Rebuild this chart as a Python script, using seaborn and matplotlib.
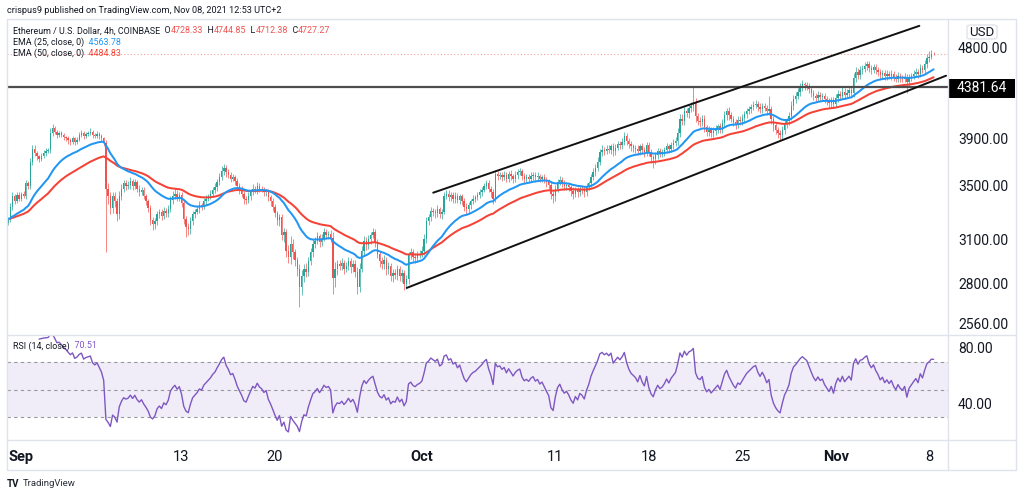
import numpy as np
import pandas as pd
import matplotlib
matplotlib.use("Agg")
import matplotlib.pyplot as plt
import seaborn as sns
from matplotlib.lines import Line2D
from matplotlib.patches import FancyBboxPatch, Rectangle
from matplotlib.ticker import NullLocator, FixedLocator

# ---------------- data (4h candles, Aug 31 00:00 -> Nov 8 08:00) ----------------
first_open = 3215.0
close_rows = [
    [3245, 3340, 3420, 3380, 3430, 3400],
    [3440, 3420, 3520, 3500, 3700, 3810],
    [3770, 3745, 3720, 3750, 3775, 3790],
    [3800, 3950, 3990, 3960, 3930, 3945],
    [3930, 3910, 3900, 3885, 3870, 3900],
    [3870, 3890, 3930, 3950, 3920, 3940],
    [3950, 3960, 3930, 3920, 3940, 3920],
    [3900, 3860, 3480, 3420, 3330, 3420],
    [3380, 3280, 3420, 3480, 3520, 3500],
    [3510, 3540, 3500, 3530, 3480, 3450],
    [3470, 3420, 3380, 3330, 3240, 3210],
    [3230, 3280, 3300, 3270, 3310, 3290],
    [3320, 3390, 3420, 3440, 3410, 3430],
    [3370, 3250, 3190, 3170, 3230, 3280],
    [3300, 3320, 3350, 3340, 3380, 3400],
    [3420, 3440, 3470, 3490, 3530, 3570],
    [3620, 3650, 3610, 3590, 3560, 3570],
    [3540, 3500, 3470, 3440, 3400, 3390],
    [3420, 3450, 3480, 3470, 3500, 3480],
    [3470, 3450, 3460, 3410, 3380, 3340],
    [3290, 3240, 3260, 3130, 3150, 3020],
    [2980, 3070, 3010, 2960, 2900, 2780],
    [2850, 2900, 2880, 2950, 3010, 3070],
    [3090, 3120, 3080, 3110, 3150, 3130],
    [3140, 3110, 2840, 2900, 2930, 2920],
    [2940, 2900, 2920, 2950, 2910, 2930],
    [2880, 2780, 2900, 3020, 3090, 3060],
    [3100, 3130, 3150, 3080, 3000, 2950],
    [2930, 2960, 2900, 2920, 2850, 2870],
    [2860, 2900, 2850, 2870, 2800, 2830],
    [2990, 3010, 2980, 2970, 2990, 3000],
    [3020, 3100, 3230, 3260, 3310, 3300],
    [3290, 3320, 3280, 3300, 3420, 3440],
    [3410, 3430, 3400, 3420, 3390, 3420],
    [3380, 3340, 3320, 3350, 3380, 3400],
    [3410, 3430, 3450, 3470, 3500, 3520],
    [3480, 3450, 3400, 3600, 3580, 3590],
    [3570, 3590, 3560, 3600, 3580, 3560],
    [3590, 3610, 3620, 3580, 3560, 3570],
    [3560, 3580, 3590, 3570, 3580, 3560],
    [3570, 3550, 3530, 3510, 3440, 3420],
    [3480, 3530, 3550, 3520, 3500, 3510],
    [3490, 3460, 3440, 3470, 3450, 3480],
    [3470, 3450, 3490, 3520, 3570, 3610],
    [3650, 3700, 3780, 3800, 3790, 3810],
    [3800, 3830, 3790, 3820, 3850, 3840],
    [3870, 3920, 3880, 3850, 3830, 3820],
    [3810, 3790, 3830, 3800, 3780, 3840],
    [3780, 3740, 3720, 3760, 3790, 3770],
    [3780, 3800, 3830, 3810, 3840, 3860],
    [3880, 3950, 4080, 4060, 4150, 4130],
    [4180, 4200, 4240, 4100, 4060, 4050],
    [4080, 4000, 3960, 3980, 3950, 3970],
    [3990, 4010, 3980, 4040, 4110, 4150],
    [4110, 4080, 4050, 4030, 4070, 4060],
    [4090, 4120, 4150, 4170, 4190, 4210],
    [4220, 4190, 4170, 4200, 4180, 4150],
    [4170, 4080, 4020, 3980, 3950, 3930],
    [3980, 4030, 4060, 4100, 4200, 4270],
    [4300, 4340, 4380, 4410, 4400, 4390],
    [4360, 4330, 4300, 4280, 4310, 4290],
    [4300, 4270, 4250, 4230, 4260, 4220],
    [4280, 4320, 4300, 4340, 4310, 4330],
    [4350, 4330, 4480, 4540, 4510, 4560],
    [4570, 4600, 4620, 4580, 4560, 4590],
    [4560, 4540, 4510, 4530, 4500, 4520],
    [4500, 4520, 4490, 4470, 4500, 4480],
    [4470, 4490, 4430, 4480, 4500, 4520],
    [4540, 4520, 4580, 4560, 4620, 4680],
    [4700, 4728.33, 4727.27],
]
wick_up_rows = [
    [20, 25, 30, 15, 20, 25], [15, 20, 25, 20, 30, 35], [30, 20, 15, 25, 20, 25],
    [20, 40, 40, 25, 20, 20], [25, 20, 15, 20, 15, 25], [15, 20, 25, 30, 20, 15],
    [20, 35, 15, 20, 25, 15], [20, 15, 30, 40, 30, 35], [30, 25, 40, 35, 30, 25],
    [30, 35, 20, 25, 20, 25], [25, 20, 15, 20, 25, 20], [25, 30, 25, 20, 30, 20],
    [30, 35, 40, 35, 25, 20], [20, 15, 20, 25, 30, 25], [20, 25, 30, 20, 25, 30],
    [20, 25, 20, 30, 25, 35], [40, 30, 20, 25, 20, 30], [20, 25, 20, 30, 20, 25],
    [30, 25, 35, 20, 30, 20], [20, 25, 20, 15, 20, 25], [20, 15, 25, 20, 30, 25],
    [40, 50, 30, 25, 20, 30], [40, 30, 35, 25, 30, 35], [25, 30, 20, 25, 30, 25],
    [20, 25, 40, 45, 30, 25], [30, 20, 25, 30, 20, 25], [25, 30, 40, 35, 30, 25],
    [30, 25, 30, 20, 25, 20], [25, 30, 20, 25, 20, 25], [30, 25, 20, 25, 20, 30],
    [25, 30, 20, 25, 30, 25], [30, 35, 30, 25, 30, 20], [25, 30, 20, 25, 30, 25],
    [30, 25, 20, 30, 25, 20], [20, 25, 30, 25, 20, 30], [20, 25, 30, 20, 25, 30],
    [25, 20, 30, 30, 25, 20], [25, 30, 20, 25, 30, 20], [30, 25, 30, 20, 25, 30],
    [25, 30, 20, 25, 30, 20], [20, 25, 20, 30, 25, 20], [30, 25, 30, 20, 25, 20],
    [25, 20, 30, 25, 20, 25], [20, 25, 30, 20, 30, 35], [30, 35, 30, 40, 25, 30],
    [30, 25, 30, 35, 30, 25], [35, 40, 30, 25, 30, 25], [25, 30, 25, 30, 25, 30],
    [25, 30, 20, 25, 30, 25], [30, 25, 30, 25, 30, 35], [30, 40, 45, 40, 35, 30],
    [40, 35, 140, 40, 30, 35], [35, 30, 25, 30, 25, 30], [30, 25, 30, 35, 40, 30],
    [35, 30, 25, 30, 35, 30], [30, 35, 30, 25, 30, 35], [40, 30, 35, 30, 25, 30],
    [130, 30, 25, 30, 20, 25], [30, 35, 30, 40, 45, 35], [40, 35, 40, 45, 30, 35],
    [30, 35, 25, 30, 35, 25], [30, 25, 30, 25, 30, 25], [35, 30, 25, 40, 30, 35],
    [30, 40, 50, 45, 40, 35], [40, 45, 35, 30, 35, 30], [35, 30, 25, 30, 25, 35],
    [30, 35, 25, 30, 35, 25], [30, 35, 30, 35, 30, 40], [35, 30, 40, 35, 40, 45],
    [60, 40, 16.52],
]
wick_dn_rows = [
    [15, 20, 25, 20, 15, 20], [20, 15, 20, 25, 20, 30], [25, 30, 20, 15, 20, 25],
    [20, 25, 30, 20, 25, 20], [20, 25, 20, 30, 25, 20], [25, 20, 15, 20, 25, 20],
    [20, 15, 25, 20, 15, 25], [25, 30, 470, 60, 50, 40], [40, 50, 35, 30, 25, 30],
    [25, 30, 35, 20, 25, 30], [20, 25, 30, 35, 40, 45], [35, 30, 25, 30, 20, 25],
    [25, 20, 30, 20, 25, 30], [35, 40, 75, 40, 30, 25], [25, 20, 30, 25, 20, 25],
    [20, 25, 20, 25, 30, 20], [25, 30, 35, 25, 30, 20], [30, 25, 35, 30, 40, 30],
    [25, 30, 20, 25, 30, 25], [20, 25, 30, 25, 35, 30], [30, 40, 45, 35, 50, 40],
    [40, 50, 45, 40, 50, 120], [50, 40, 35, 30, 25, 30], [30, 25, 35, 30, 25, 30],
    [25, 30, 100, 60, 40, 30], [30, 35, 25, 30, 40, 30], [35, 40, 30, 25, 30, 35],
    [25, 30, 20, 35, 30, 40], [35, 30, 40, 35, 30, 40], [30, 35, 30, 40, 35, 30],
    [30, 25, 35, 30, 25, 20], [25, 30, 25, 30, 25, 30], [35, 30, 25, 30, 20, 25],
    [30, 25, 35, 30, 25, 30], [30, 35, 40, 30, 25, 20], [25, 20, 25, 30, 20, 25],
    [30, 35, 40, 25, 30, 25], [30, 25, 30, 25, 30, 35], [25, 30, 25, 30, 35, 30],
    [30, 25, 30, 35, 25, 30], [25, 30, 35, 30, 40, 50], [40, 30, 25, 30, 35, 30],
    [30, 35, 40, 30, 35, 30], [35, 40, 30, 25, 30, 25], [30, 25, 30, 35, 30, 25],
    [30, 35, 40, 30, 25, 30], [30, 25, 35, 30, 40, 35], [40, 35, 30, 35, 40, 30],
    [35, 50, 75, 40, 35, 30], [30, 35, 30, 35, 25, 30], [30, 35, 40, 35, 40, 35],
    [40, 35, 45, 50, 40, 45], [40, 45, 40, 35, 40, 35], [35, 40, 35, 30, 35, 40],
    [40, 35, 40, 45, 35, 40], [35, 40, 35, 30, 35, 30], [30, 35, 40, 35, 30, 40],
    [40, 45, 50, 40, 45, 50], [45, 40, 35, 40, 35, 40], [40, 35, 40, 35, 45, 40],
    [35, 40, 45, 40, 35, 40], [40, 45, 40, 50, 45, 40], [35, 40, 45, 35, 40, 35],
    [40, 35, 40, 45, 40, 45], [40, 35, 40, 45, 40, 35], [40, 45, 40, 35, 45, 40],
    [35, 40, 45, 40, 35, 40], [40, 35, 100, 40, 35, 30], [35, 40, 35, 30, 35, 40],
    [40, 30, 14.89],
]

key_level = 4381.64
last_price = 4727.27
# trend channel anchors: (candle index, price)
chan_low_idx = [179.2, 421.6]
chan_low_px = [2775, 4499]
chan_up_idx = [191.1, 409.6]
chan_up_px = [3447, 5040]

price_ticks = [2560, 2800, 3100, 3500, 3900, 4800]
rsi_ticks = [40, 80]
date_pos = [6, 78, 120, 186, 246, 288, 330, 372, 414]
date_labels = ["Sep", "13", "20", "Oct", "11", "18", "25", "Nov", "8"]
month_labels = {"Sep", "Oct", "Nov"}

# ---------------- derived series ----------------
closes = np.array([v for r in close_rows for v in r], dtype=float)
wick_up = np.array([v for r in wick_up_rows for v in r], dtype=float)
wick_dn = np.array([v for r in wick_dn_rows for v in r], dtype=float)
opens = np.concatenate([[first_open], closes[:-1]])
highs = np.maximum(opens, closes) + wick_up
lows = np.minimum(opens, closes) - wick_dn
idx = np.arange(len(closes))

s = pd.Series(closes)
ema25 = s.ewm(span=25, adjust=False).mean().values
ema50 = s.ewm(span=50, adjust=False).mean().values
delta = s.diff()
gain = delta.clip(lower=0)
loss = (-delta).clip(lower=0)
avg_g = gain.ewm(alpha=1/14, adjust=False, min_periods=14).mean()
avg_l = loss.ewm(alpha=1/14, adjust=False, min_periods=14).mean()
rsi = (100 - 100 / (1 + avg_g / avg_l)).values
valid = ~np.isnan(rsi)

# ---------------- figure ----------------
sns.set_theme(style="white")
plt.rcParams['font.family'] = ['Roboto', 'DejaVu Sans']
W, H = 1024, 496
fig = plt.figure(figsize=(W / 100, H / 100), dpi=100)
fig.patch.set_facecolor("white")

L, R = 7.3, 948.3
ax = fig.add_axes([L / W, 1 - 335 / H, (R - L) / W, (335 - 19) / H])
ax2 = fig.add_axes([L / W, 1 - 440 / H, (R - L) / W, (440 - 335) / H])

UP, DN = "#26a69a", "#ef5350"
cols = np.where(closes >= opens, UP, DN)

ax.set_yscale("log")
ax.vlines(idx, lows, highs, colors=cols, linewidth=0.7, alpha=0.7)
ax.bar(idx, np.abs(closes - opens), bottom=np.minimum(opens, closes),
       width=0.62, color=cols, linewidth=0)
sns.lineplot(x=idx, y=ema50, ax=ax, color="#f44336", linewidth=1.45, legend=False)
sns.lineplot(x=idx, y=ema25, ax=ax, color="#2196f3", linewidth=1.45, legend=False)
ax.axhline(key_level, color="#4d4d4d", linewidth=1.6)
ax.axhline(last_price, color=DN, linewidth=0.8, linestyle=(0, (1, 2)), alpha=0.55)
ax.plot(chan_low_idx, chan_low_px, color="#111111", linewidth=1.4)
ax.plot(chan_up_idx, chan_up_px, color="#111111", linewidth=1.4)

xlim = ((L - 8) / 2.225, (R - 8) / 2.225)
ax.set_xlim(*xlim)
ax.set_ylim(2493, 5119)
ax.yaxis.tick_right()
ax.yaxis.set_major_locator(FixedLocator(price_ticks))
ax.yaxis.set_minor_locator(NullLocator())
ax.set_yticklabels([f"{v:.2f}" for v in price_ticks])
ax.tick_params(axis="y", length=0, pad=7, labelsize=10, labelcolor="#131722")
ax.set_xticks([])
ax.set_xlabel("")
ax.set_ylabel("")

# RSI panel
ax2.axhspan(30, 70, color="#7e57c2", alpha=0.1, linewidth=0)
for lv in (30, 50, 70):
    ax2.axhline(lv, color="#9598a1", linewidth=0.8, linestyle=(0, (3, 3)))
sns.lineplot(x=idx[valid], y=rsi[valid], ax=ax2, color="#7e57c2", linewidth=1.0, legend=False)
ax2.set_xlim(*xlim)
ax2.set_ylim(13.7, 89.2)
ax2.yaxis.tick_right()
ax2.set_yticks(rsi_ticks)
ax2.set_yticklabels([f"{v:.2f}" for v in rsi_ticks])
ax2.tick_params(axis="y", length=0, pad=7, labelsize=10, labelcolor="#131722")
ax2.set_xticks(date_pos)
ax2.set_xticklabels(date_labels)
ax2.tick_params(axis="x", length=0, pad=7, labelsize=10.5, labelcolor="#131722")
for t in ax2.get_xticklabels():
    if t.get_text() in month_labels:
        t.set_fontweight("bold")
ax2.set_xlabel("")
ax2.set_ylabel("")

for a in (ax, ax2):
    for sp in a.spines.values():
        sp.set_visible(False)
    a.set_facecolor("white")
    a.grid(False)

# frame lines
BC = "#e0e3eb"
def hline(y, x0, x1):
    fig.add_artist(Line2D([x0 / W, x1 / W], [1 - y / H, 1 - y / H], color=BC, lw=1.0,
                          transform=fig.transFigure))
def vline(x, y0, y1):
    fig.add_artist(Line2D([x / W, x / W], [1 - y0 / H, 1 - y1 / H], color=BC, lw=1.0,
                          transform=fig.transFigure))
RIGHT = 1016
hline(19, L, RIGHT); hline(470, L, RIGHT); hline(335, L, RIGHT); hline(440, L, RIGHT)
vline(L, 19, 470); vline(RIGHT, 19, 470); vline(R, 19, 470)

# price axis extras
fig.add_artist(FancyBboxPatch((967 / W, 1 - 39 / H), 30 / W, 14 / H,
                              boxstyle="round,pad=0,rounding_size=0.004",
                              transform=fig.transFigure, facecolor="white",
                              edgecolor=BC, lw=1.0))
fig.text(982 / W, 1 - 32 / H, "USD", ha="center", va="center", fontsize=9.5, color="#131722")
fig.add_artist(Rectangle((948.5 / W, 1 - 98 / H), 66.5 / W, 19 / H, transform=fig.transFigure,
                         facecolor="black", edgecolor="none"))
fig.text(982 / W, 1 - 88.5 / H, f"{key_level:.2f}", ha="center", va="center",
         fontsize=10, color="white")

# multi-colour texts
renderer = fig.canvas.get_renderer()
def px_text(x, y, parts, size, gap=0.0):
    cur = x
    for s_, c_ in parts:
        t = fig.text(cur / W, 1 - y / H, s_, color=c_, fontsize=size, va="center", ha="left")
        bb = t.get_window_extent(renderer=renderer)
        cur = bb.x1 + gap

DK = "#131722"
fig.text(7 / W, 1 - 10.5 / H, "crispus9 published on TradingView.com, Nov 08, 2021 12:53 UTC+2",
         ha="left", va="center", fontsize=6.6, color=DK)
px_text(13, 30.7, [("Ethereum / U.S. Dollar, 4h, COINBASE", DK), ("  O", DK), ("4728.33", DN),
                   ("  H", DK), ("4744.85", DN), ("  L", DK), ("4712.38", DN),
                   ("  C", DK), ("4727.27", DN)], 6.4)
px_text(13, 42.3, [("EMA (25, close, 0)", DK), ("  4563.78", "#2196f3")], 6.4)
px_text(13, 53.3, [("EMA (50, close, 0)", DK), ("  4484.83", "#f44336")], 6.4)
px_text(13, 346, [("RSI (14, close)", DK), ("  70.51", "#7e57c2")], 6.4)
fig.text(7 / W, 1 - 484 / H, "TV", ha="left", va="center", fontsize=7, fontweight="bold", color=DK)
fig.text(23 / W, 1 - 484 / H, "TradingView", ha="left", va="center", fontsize=6.8, color="#2a2e39")

fig.savefig("out.png", dpi=100, facecolor="white")
